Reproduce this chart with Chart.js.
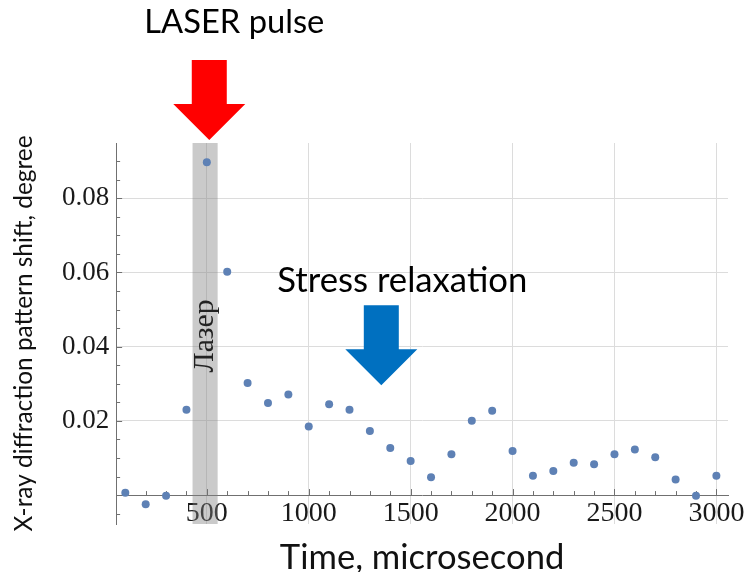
<!DOCTYPE html>
<html>
<head>
<meta charset="utf-8">
<script src="https://cdn.jsdelivr.net/npm/chart.js@4.4.0/dist/chart.umd.min.js"></script>
<style>
  html, body { margin: 0; padding: 0; background: white; }
</style>
</head>
<body>
<canvas id="shiftCanvas" width="750" height="572"></canvas>
<script>
// time of each measurement, microsecond
const times = [100, 200, 300, 400, 500, 600, 700, 800, 900, 1000,
  1100, 1200, 1300, 1400, 1500, 1600, 1700, 1800, 1900, 2000,
  2100, 2200, 2300, 2400, 2500, 2600, 2700, 2800, 2900, 3000];

// diffraction pattern shift, degree
const shifts = [0.0006, -0.0025, -0.0002, 0.0230, 0.0897, 0.0602, 0.0302, 0.0248, 0.0271, 0.0185,
  0.0245, 0.0230, 0.0173, 0.0127, 0.0092, 0.0048, 0.0110, 0.0200, 0.0227, 0.0119,
  0.0052, 0.0065, 0.0087, 0.0083, 0.0110, 0.0123, 0.0102, 0.0042, -0.0002, 0.0052];

// tick labels
const xTickLabels = [500, 1000, 1500, 2000, 2500, 3000];
const yTickLabels = [0.02, 0.04, 0.06, 0.08];

// laser pulse window (microsecond)
const laserWindow = [430, 553];

// arrow tips, in data units
const laserArrowTip = [512, 0.0957];
const relaxArrowTip = [1356, 0.0296];

// minor tick positions
var xMinorTicks = [];
for (var t = 100; t <= 3000; t += 100) xMinorTicks.push(t);
var yMinorTicks = [];
for (var k = -1; k <= 18; k++) yMinorTicks.push(+(k * 0.005).toFixed(3));

const isYLabel = (v) => yTickLabels.some(l => Math.abs(l - v) < 1e-6);

// font size that makes a text a given width
const measureCtx = document.createElement('canvas').getContext('2d');
const fitSize = (text, family, width) => {
  measureCtx.font = '100px ' + family;
  return Math.round(1000 * width / measureCtx.measureText(text).width) / 10;
};

const sans = 'Lato';
const serif = '"Liberation Serif"';
const yTitleSize = fitSize('X-ray diffraction pattern shift, degree', sans, 397);
const xTitleSize = fitSize('Time, microsecond', sans, 285);
const laserSize = fitSize('LASER pulse', sans, 180);
const relaxSize = fitSize('Stress relaxation', sans, 250);
const bandSize = fitSize('Лазер', serif, 73);

// arrow pointing down, tip at (tx, ty)
const drawArrow = (ctx, tx, ty, color) => {
  ctx.fillStyle = color;
  ctx.beginPath();
  ctx.moveTo(tx, ty);
  ctx.lineTo(tx - 36, ty - 36);
  ctx.lineTo(tx - 17.5, ty - 36);
  ctx.lineTo(tx - 17.5, ty - 80);
  ctx.lineTo(tx + 17.5, ty - 80);
  ctx.lineTo(tx + 17.5, ty - 36);
  ctx.lineTo(tx + 36, ty - 36);
  ctx.closePath();
  ctx.fill();
};

const overlayPlugin = {
  id: 'overlay',
  beforeDatasetsDraw(chart) {
    const {ctx, chartArea, scales: {x, y}} = chart;
    ctx.save();

    // laser band
    const bx0 = x.getPixelForValue(laserWindow[0]);
    const bx1 = x.getPixelForValue(laserWindow[1]);
    ctx.fillStyle = 'rgba(128,128,128,0.42)';
    ctx.fillRect(bx0, chartArea.top, bx1 - bx0, chartArea.bottom - chartArea.top);

    // inward tick marks
    ctx.strokeStyle = '#707070';
    ctx.lineWidth = 1;
    const y0 = y.getPixelForValue(0);
    ctx.beginPath();
    xMinorTicks.forEach(v => {
      const px = Math.round(x.getPixelForValue(v)) + 0.5;
      const len = xTickLabels.includes(v) ? 6 : 4;
      ctx.moveTo(px, y0);
      ctx.lineTo(px, y0 - len);
    });
    yMinorTicks.forEach(v => {
      const py = Math.round(y.getPixelForValue(v)) + 0.5;
      const len = isYLabel(v) ? 6 : 4;
      ctx.moveTo(chartArea.left, py);
      ctx.lineTo(chartArea.left + len, py);
    });
    ctx.stroke();

    // band label
    ctx.translate((bx0 + bx1) / 2, y.getPixelForValue(0.0429));
    ctx.rotate(-Math.PI / 2);
    ctx.fillStyle = '#222';
    ctx.font = bandSize + 'px ' + serif;
    ctx.textAlign = 'center';
    ctx.textBaseline = 'middle';
    ctx.fillText('Лазер', 0, 0);
    ctx.restore();
  },
  afterDraw(chart) {
    const {ctx, scales: {x, y}} = chart;
    ctx.save();
    const lx = x.getPixelForValue(laserArrowTip[0]);
    const ly = y.getPixelForValue(laserArrowTip[1]);
    const rx = x.getPixelForValue(relaxArrowTip[0]);
    const ry = y.getPixelForValue(relaxArrowTip[1]);
    drawArrow(ctx, lx, ly, '#ff0000');
    drawArrow(ctx, rx, ry, '#0070c0');

    ctx.fillStyle = '#000';
    ctx.textAlign = 'center';
    ctx.textBaseline = 'alphabetic';
    ctx.font = laserSize + 'px ' + sans;
    ctx.fillText('LASER pulse', lx + 25, ly - 107);
    ctx.font = relaxSize + 'px ' + sans;
    ctx.fillText('Stress relaxation', rx + 21, ry - 93);
    ctx.restore();
  }
};

const data = {
  datasets: [{
    label: 'shift',
    data: times.map((t, i) => ({x: t, y: shifts[i]})),
    backgroundColor: '#5e81b5',
    borderWidth: 0,
    pointRadius: 4
  }]
};

const options = {
  responsive: false,
  animation: false,
  layout: {
    padding: {left: 6, top: 143, right: 22, bottom: 48}
  },
  plugins: {
    legend: {display: false},
    tooltip: {enabled: false}
  },
  scales: {
    x: {
      type: 'linear',
      position: {y: 0},
      min: 55,
      max: 3057,
      afterBuildTicks: (scale) => {
        scale.ticks = xMinorTicks.map(v => ({value: v}));
      },
      grid: {
        drawTicks: false,
        color: (c) => (c.tick && xTickLabels.includes(c.tick.value)) ? '#dcdcdc' : 'rgba(0,0,0,0)'
      },
      border: {display: true, color: '#707070', width: 1},
      ticks: {
        autoSkip: false,
        maxRotation: 0,
        padding: 2,
        color: '#1a1a1a',
        font: {family: 'Liberation Serif', size: 28},
        callback: (value) => xTickLabels.includes(value) ? String(value) : ''
      },
      title: {
        display: true,
        text: 'Time, microsecond',
        color: '#111',
        font: {family: sans, size: xTitleSize},
        padding: {top: 4, bottom: 0}
      }
    },
    y: {
      type: 'linear',
      min: -0.0078,
      max: 0.0949,
      afterBuildTicks: (scale) => {
        scale.ticks = yMinorTicks.map(v => ({value: v}));
      },
      grid: {
        drawTicks: false,
        color: (c) => (c.tick && isYLabel(c.tick.value)) ? '#dcdcdc' : 'rgba(0,0,0,0)'
      },
      border: {display: true, color: '#707070', width: 1},
      ticks: {
        autoSkip: false,
        padding: 7,
        color: '#1a1a1a',
        font: {family: 'Liberation Serif', size: 27},
        callback: (value) => isYLabel(value) ? value.toFixed(2) : ''
      },
      title: {
        display: true,
        text: 'X-ray diffraction pattern shift, degree',
        color: '#111',
        font: {family: sans, size: yTitleSize},
        padding: {top: 3.6, bottom: 16}
      }
    }
  }
};

var shiftChart = new Chart(document.getElementById('shiftCanvas'), {
  type: 'scatter',
  data: data,
  options: options,
  plugins: [overlayPlugin]
});
</script>
</body>
</html>
